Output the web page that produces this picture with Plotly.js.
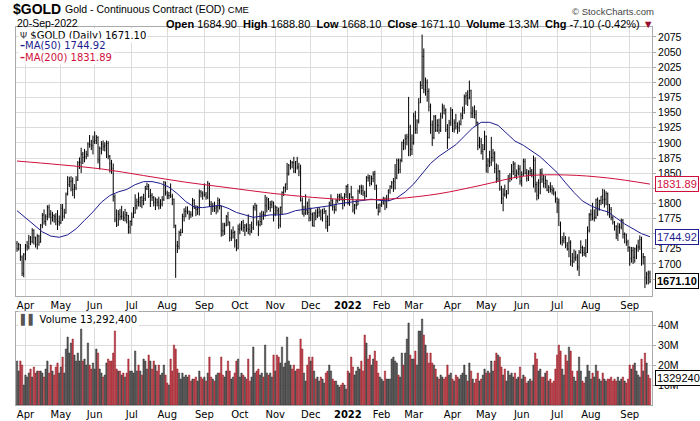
<!DOCTYPE html>
<html>
<head>
<meta charset="utf-8">
<script src="https://cdn.plot.ly/plotly-3.0.1.min.js"></script>
<style>
  html, body { margin: 0; padding: 0; background: #fff; }
  #chart { width: 700px; height: 421px; }
</style>
</head>
<body>
<div id="chart"></div>
<script>
// $GOLD daily bars, 25-Mar-2021 .. 20-Sep-2022, one row per month
const opens = [
  1734,1726,1731,1711,1684,
  1716,1730,1728,1743,1737,1756,1744,1732,1746,1736,1764,1781,1770,1778,1793,1782,1777,1780,1778,1773,1770,
  1768,1792,1779,1784,1816,1831,1836,1837,1823,1826,1839,1867,1868,1881,1876,1877,1881,1898,1897,1895,
  1903,1904,1909,1872,1891,1898,1894,1896,1899,1878,1866,1858,1811,1774,1764,1782,1778,1779,1776,1781,1780,1761,
  1770,1777,1784,1796,1803,1802,1810,1805,1808,1824,1828,1812,1813,1810,1802,1806,1802,1797,1799,1806,1835,
  1817,1813,1813,1812,1807,1763,1730,1729,1752,1752,1778,1787,1787,1787,1782,1781,1805,1792,1790,1792,1819,1817,
  1814,1815,1811,1833,1798,1795,1795,1792,1794,1805,1795,1755,1754,1764,1778,1769,1743,1751,1752,1738,1726,
  1757,1759,1769,1760,1763,1758,1757,1754,1760,1793,1797,1768,1765,1770,1782,1781,1796,1806,1793,1798,1802,
  1783,1793,1788,1764,1793,1818,1826,1832,1849,1863,1868,1867,1853,1869,1860,1852,1805,1782,1784,1788,1785,
  1776,1782,1763,1783,1779,1785,1786,1776,1783,1787,1770,1764,1799,1805,1794,1790,1805,1811,1812,1810,1805,1814,
  1828,1800,1815,1810,1789,1797,1797,1820,1827,1821,1817,1812,1843,1842,1833,1841,1848,1829,1793,1786,
  1797,1801,1807,1805,1807,1822,1828,1834,1836,1842,1871,1856,1871,1901,1900,1907,1910,1926,1889,
  1900,1944,1923,1936,1966,1995,2043,1988,2000,1985,1960,1930,1909,1943,1921,1929,1921,1944,1958,1954,1922,1909,1933,
  1954,1923,1933,1927,1925,1931,1945,1954,1976,1978,1974,1986,1949,1953,1947,1934,1896,1903,1886,1889,
  1911,1863,1870,1868,1876,1883,1858,1841,1853,1824,1808,1815,1814,1816,1841,1842,1853,1865,1846,1850,1857,
  1837,1848,1869,1850,1841,1852,1853,1848,1871,1831,1813,1834,1850,1840,1833,1838,1822,1826,1823,1821,1817,
  1807,1801,1763,1736,1739,1742,1731,1725,1735,1705,1703,1710,1711,1695,1719,1727,1719,1717,1720,1755,
  1781,1782,1775,1777,1806,1791,1805,1812,1806,1807,1816,1798,1790,1777,1769,1762,1748,1761,1761,1772,1749,1749,1736,
  1727,1709,1722,1711,1725,1728,1728,1740,1711,1712,1677,1683,1684.9
];
const highs = [
  1738,1735,1733,1714,1718,
  1733,1738,1748,1746,1759,1757,1745,1749,1748,1766,1784,1790,1782,1797,1798,1789,1786,1782,1784,1789,1780,
  1799,1799,1791,1818,1845,1844,1845,1843,1832,1845,1870,1876,1892,1885,1890,1887,1901,1913,1905,1912,
  1919,1913,1911,1894,1903,1904,1901,1904,1903,1880,1872,1866,1815,1790,1789,1791,1796,1787,1791,1786,1781,1772,
  1785,1794,1815,1808,1818,1811,1812,1816,1829,1834,1832,1824,1817,1812,1810,1808,1811,1807,1812,1837,1836,
  1821,1819,1833,1816,1808,1765,1738,1755,1758,1783,1792,1795,1795,1788,1787,1809,1807,1797,1796,1823,1822,1820,
  1833,1819,1837,1834,1804,1801,1803,1796,1810,1808,1796,1768,1768,1781,1786,1770,1757,1762,1755,1741,1765,
  1767,1771,1773,1766,1767,1782,1766,1770,1797,1801,1798,1772,1785,1788,1787,1814,1811,1809,1804,1805,1803,
  1797,1795,1793,1795,1820,1828,1833,1867,1865,1872,1870,1877,1870,1877,1867,1864,1810,1796,1815,1803,1808,
  1793,1785,1786,1790,1792,1794,1790,1791,1793,1789,1780,1803,1815,1807,1797,1807,1816,1816,1817,1811,1817,1830,
  1832,1817,1829,1812,1799,1806,1823,1830,1831,1830,1821,1845,1848,1847,1846,1853,1854,1831,1799,1800,
  1807,1811,1810,1814,1823,1830,1837,1842,1865,1874,1874,1874,1902,1906,1914,1915,1976,1930,1914,
  1950,1953,1939,1974,2002,2079,2056,2008,2005,1990,1965,1937,1946,1946,1939,1940,1950,1965,1963,1957,1931,1938,1959,
  1956,1939,1948,1934,1937,1950,1960,1980,1984,1987,2003,1988,1960,1962,1954,1935,1910,1908,1898,1920,
  1912,1875,1887,1910,1890,1886,1866,1864,1855,1829,1825,1831,1822,1847,1850,1865,1870,1868,1856,1864,1863,
  1853,1874,1874,1857,1855,1860,1857,1879,1876,1836,1840,1857,1858,1847,1846,1839,1830,1835,1830,1826,1820,
  1810,1808,1770,1746,1752,1746,1736,1745,1739,1718,1724,1722,1716,1723,1739,1730,1728,1741,1762,1784,
  1790,1801,1790,1808,1810,1806,1812,1824,1823,1820,1818,1799,1794,1779,1771,1764,1768,1767,1775,1774,1752,1750,1740,
  1729,1728,1728,1727,1732,1740,1747,1745,1718,1713,1687,1689,1688.8
];
const lows = [
  1720,1722,1705,1680,1678,
  1706,1722,1724,1731,1734,1732,1727,1724,1730,1735,1759,1765,1763,1772,1776,1765,1770,1768,1764,1756,1763,
  1766,1771,1775,1783,1813,1827,1820,1812,1808,1822,1837,1857,1850,1865,1868,1873,1877,1892,1888,1881,
  1898,1898,1866,1856,1881,1887,1886,1875,1873,1851,1849,1803,1769,1761,1763,1772,1773,1771,1770,1767,1750,1750,
  1763,1776,1783,1790,1795,1794,1792,1797,1804,1822,1809,1794,1804,1795,1789,1795,1790,1791,1795,1804,1813,
  1807,1807,1809,1797,1759,1677,1718,1724,1746,1751,1770,1777,1782,1773,1776,1778,1791,1779,1781,1780,1810,1806,
  1811,1806,1807,1794,1781,1786,1786,1782,1785,1790,1745,1746,1748,1762,1763,1737,1738,1742,1727,1721,1724,
  1749,1755,1753,1746,1753,1749,1747,1751,1756,1788,1763,1746,1762,1764,1773,1778,1785,1789,1786,1792,1770,
  1779,1782,1758,1760,1782,1812,1818,1822,1846,1856,1858,1850,1850,1856,1845,1803,1782,1778,1781,1781,1770,
  1771,1762,1761,1772,1776,1778,1772,1770,1783,1758,1753,1763,1795,1788,1783,1787,1801,1804,1805,1790,1795,1809,
  1798,1796,1808,1785,1782,1790,1797,1816,1814,1812,1805,1810,1836,1828,1830,1835,1822,1791,1780,1785,
  1794,1798,1789,1792,1804,1816,1824,1819,1823,1840,1849,1850,1868,1888,1889,1896,1878,1878,1880,
  1897,1915,1915,1932,1966,1989,1982,1978,1968,1952,1915,1895,1906,1918,1918,1915,1918,1940,1947,1918,1890,1907,1928,
  1918,1917,1922,1915,1918,1929,1939,1948,1963,1961,1972,1941,1941,1940,1928,1888,1891,1881,1872,1888,
  1851,1850,1860,1862,1869,1850,1834,1836,1821,1799,1787,1811,1808,1815,1835,1838,1847,1842,1840,1846,1831,
  1828,1845,1848,1836,1837,1847,1843,1826,1818,1805,1807,1815,1834,1826,1825,1820,1817,1818,1815,1813,1801,
  1784,1763,1732,1730,1734,1726,1722,1711,1697,1695,1702,1705,1689,1680,1717,1712,1713,1711,1718,1752,
  1771,1772,1770,1774,1779,1788,1797,1799,1793,1797,1780,1776,1772,1765,1755,1741,1738,1750,1757,1742,1734,1730,1720,
  1697,1702,1700,1702,1708,1720,1723,1697,1699,1660,1666,1666,1668.1
];
const closes = [
  1725,1732,1712,1685,1715,
  1728,1728,1743,1737,1756,1744,1732,1747,1736,1764,1780,1770,1778,1793,1782,1777,1780,1778,1773,1768,1768,
  1792,1779,1784,1815,1831,1836,1837,1823,1826,1838,1867,1868,1881,1876,1877,1881,1898,1897,1895,1902,
  1904,1909,1872,1891,1898,1894,1896,1899,1878,1866,1858,1811,1774,1764,1782,1778,1779,1776,1781,1780,1761,1770,
  1777,1784,1796,1803,1802,1810,1805,1808,1824,1828,1812,1813,1810,1802,1806,1802,1797,1799,1806,1835,1817,
  1813,1813,1812,1807,1763,1730,1729,1752,1752,1778,1787,1787,1787,1782,1781,1805,1792,1790,1792,1819,1817,1814,
  1815,1811,1833,1798,1795,1795,1792,1794,1805,1795,1755,1754,1764,1778,1769,1743,1751,1752,1738,1726,1757,
  1759,1769,1760,1763,1758,1757,1754,1760,1793,1797,1768,1765,1770,1782,1781,1796,1806,1793,1798,1802,1783,
  1793,1788,1764,1793,1818,1826,1832,1849,1863,1868,1867,1853,1869,1860,1852,1805,1782,1784,1788,1785,1776,
  1782,1763,1783,1779,1785,1786,1776,1783,1787,1770,1764,1799,1805,1794,1790,1805,1811,1812,1810,1805,1814,1828,
  1800,1815,1810,1789,1797,1797,1820,1827,1821,1817,1812,1843,1842,1833,1841,1848,1829,1793,1786,1797,
  1801,1807,1805,1807,1822,1828,1834,1836,1842,1871,1856,1871,1901,1900,1907,1910,1926,1889,1900,
  1944,1923,1936,1966,1995,2043,1988,2000,1985,1960,1930,1909,1943,1921,1929,1921,1944,1958,1954,1922,1909,1933,1954,
  1923,1933,1927,1925,1931,1945,1954,1976,1978,1974,1986,1949,1953,1947,1934,1896,1903,1886,1889,1911,
  1863,1870,1868,1876,1883,1858,1841,1853,1824,1808,1815,1814,1816,1841,1842,1853,1865,1846,1850,1857,1837,
  1848,1869,1850,1841,1852,1853,1848,1871,1831,1813,1834,1850,1840,1833,1838,1822,1826,1823,1821,1817,1807,
  1801,1763,1736,1739,1742,1731,1725,1735,1705,1703,1710,1711,1695,1719,1727,1719,1717,1719,1755,1781,
  1782,1775,1777,1806,1791,1805,1812,1806,1807,1816,1798,1790,1777,1769,1762,1748,1761,1761,1772,1749,1749,1736,1727,
  1709,1722,1711,1725,1728,1728,1740,1711,1712,1677,1683,1678.2,1671.1
];
// volume in millions
const volumes = [
  22,17,22,20,10,
  15,14,16,18,14,19,16,17,17,17,16,14,18,22,16,20,17,15,19,21,16,
  19,24,16,28,34,26,31,33,25,22,26,22,38,22,23,20,31,20,18,21,
  18,28,26,18,16,14,15,21,23,22,22,26,37,18,17,17,15,16,14,16,23,17,
  17,16,27,17,20,17,15,23,22,18,25,22,18,22,20,17,20,15,16,20,15,
  11,10,23,17,30,28,18,16,13,16,14,15,14,15,12,13,13,14,12,17,14,13,
  14,12,16,24,14,13,12,15,16,16,24,15,14,17,22,17,13,14,16,22,23,
  14,16,15,14,13,23,12,14,29,16,17,18,15,16,14,30,16,15,16,14,25,
  17,25,24,21,29,19,21,34,22,20,18,20,17,18,18,33,28,16,12,20,24,
  22,24,17,13,14,12,14,13,11,16,17,20,17,13,12,12,10,9,10,11,10,8,
  17,16,24,19,15,17,19,18,22,17,35,31,23,25,20,23,27,22,16,14,
  13,12,17,13,13,13,23,24,22,21,15,14,26,20,26,33,41,25,23,
  23,27,20,37,37,43,35,30,26,21,26,21,20,18,14,13,15,14,13,14,20,15,16,
  13,12,15,14,13,15,16,20,15,12,21,17,13,11,13,16,12,13,15,18,
  16,17,16,22,17,22,26,25,24,19,15,18,12,17,15,16,14,16,13,14,19,
  13,15,14,11,12,13,12,20,26,23,17,18,14,14,16,17,12,13,11,12,18,
  25,30,27,18,15,25,22,29,27,17,14,12,17,24,17,12,11,14,20,17,
  13,16,14,20,17,13,12,16,13,12,13,13,14,12,13,12,14,12,13,14,12,11,13,
  20,18,20,21,17,15,14,23,17,26,21,15,13.2924
];

// moving averages: MA(50) every 5th bar, MA(200) every 25th bar
const ma50 = [
  1788,1776,1765,1753,1746,1744,1748,1758,1772,1786,1802,1813,1819,1823,1831,1836,1836,1833,1827,1816,
  1803,1794,1793,1795,1797,1792,1785,1781,1777,1779,1781,1781,1783,1788,1790,1791,1794,1796,1799,1801,
  1803,1805,1807,1805,1804,1809,1819,1832,1850,1866,1878,1887,1897,1911,1925,1934,1934,1929,1916,1903,
  1896,1886,1877,1864,1851,1834,1818,1804,1796,1790,1786,1776,1766,1758,1750,1744.92
];
const ma200 = [1870,1864,1857,1846,1835,1826,1817,1810,1806,1808,1816,1830,1845,1847,1842,1831.89];

// first trading day of each month (bar index) and labels
const monthIdx = [5,26,46,68,89,111,132,153,174,196,216,235,258,278,299,320,340,363];
const monthLabels = ['Apr','May','Jun','Jul','Aug','Sep','Oct','Nov','Dec','<b>2022</b>','Feb','Mar','Apr','May','Jun','Jul','Aug','Sep'];

// price gridlines every 25; labels hidden where the value boxes sit
const priceTicks = [1675,1700,1725,1750,1775,1800,1825,1850,1875,1900,1925,1950,1975,2000,2025,2050,2075];
const priceTickText = ['','1700','1725','','1775','1800','','1850','1875','1900','1925','1950','1975','2000','2025','2050','2075'];
const volTicks = [10,20,30,40];

const bars = closes.map((_, i) => i);
const isDown = closes.map((c, i) => i > 0 && c < closes[i - 1]);
const volColors = isDown.map(d => d ? '#c9404b' : '#5c5c5c');
const volLines = isDown.map(d => d ? '#8c1c26' : '#2b2b2b');

const FONT = 'Liberation Sans, Arial, sans-serif';
const VFONT = 'DejaVu Sans, Verdana, sans-serif';

const data = [
  {
    type: 'ohlc', x: bars, open: opens, high: highs, low: lows, close: closes,
    xaxis: 'x', yaxis: 'y',
    increasing: { line: { color: '#000', width: 1 } },
    decreasing: { line: { color: '#000', width: 1 } },
    tickwidth: 0.3, hoverinfo: 'skip'
  },
  {
    type: 'scatter', mode: 'lines', x: ma50.map((_, i) => i * 5), y: ma50,
    xaxis: 'x', yaxis: 'y', line: { color: '#1c1c8e', width: 1 }, hoverinfo: 'skip'
  },
  {
    type: 'scatter', mode: 'lines', x: ma200.map((_, i) => i * 25), y: ma200,
    xaxis: 'x', yaxis: 'y', line: { color: '#d0103c', width: 1, shape: 'spline' }, hoverinfo: 'skip'
  },
  {
    type: 'bar', x: bars, y: volumes, xaxis: 'x2', yaxis: 'y2',
    marker: { color: volColors, line: { color: volLines, width: 0.5 } }, hoverinfo: 'skip'
  }
];

const xBase = {
  range: [-0.6, 376.2], tickvals: monthIdx, ticktext: monthLabels,
  showgrid: true, gridcolor: '#dcdcdc', gridwidth: 1, zeroline: false,
  showline: true, mirror: true, linecolor: '#aaa', linewidth: 1,
  ticks: '', tickfont: { family: VFONT, size: 10, color: '#000' },
  rangeslider: { visible: false }, fixedrange: true
};

const px = p => (p - 16) / 636;
const py = p => (405 - p) / 378;

const ann = (x, y, text, opt) => Object.assign({
  xref: 'paper', yref: 'paper', x: px(x), y: py(y), text, showarrow: false,
  xanchor: 'left', yanchor: 'middle', font: { family: FONT, size: 11, color: '#000' }
}, opt || {});

const valueBox = (yref, y, text, color, bold) => ({
  xref: 'paper', yref, x: 1, y, xshift: 3, xanchor: 'left', yanchor: 'middle',
  text: bold ? '<b>' + text + '</b>' : text, showarrow: false,
  bgcolor: '#fff', bordercolor: color, borderwidth: 1, borderpad: 1,
  font: { family: FONT, size: 11, color: color }
});

const layout = {
  width: 700, height: 421,
  margin: { l: 16, r: 48, t: 27, b: 16, pad: 0 },
  paper_bgcolor: '#fff', plot_bgcolor: '#fff',
  showlegend: false, bargap: 0.2,
  xaxis: Object.assign({}, xBase, { anchor: 'y' }),
  xaxis2: Object.assign({}, xBase, { anchor: 'y2', matches: 'x' }),
  yaxis: {
    domain: [0.2884, 1], range: [1647, 2091.5], side: 'right',
    tickvals: priceTicks, ticktext: priceTickText,
    showgrid: true, gridcolor: '#dcdcdc', zeroline: false,
    showline: true, mirror: true, linecolor: '#aaa', linewidth: 1,
    ticks: 'outside', ticklen: 3, tickcolor: '#aaa',
    tickfont: { family: FONT, size: 10.5, color: '#000' }, fixedrange: true
  },
  yaxis2: {
    domain: [0, 0.246], range: [0, 46.5], side: 'right',
    tickvals: volTicks, ticktext: volTicks.map(v => v + 'M'),
    showgrid: true, gridcolor: '#dcdcdc', zeroline: false,
    showline: true, mirror: true, linecolor: '#aaa', linewidth: 1,
    ticks: 'outside', ticklen: 3, tickcolor: '#aaa',
    tickfont: { family: FONT, size: 10.5, color: '#000' }, fixedrange: true
  },
  annotations: [
    ann(11, 9, '<b>$GOLD</b>', { font: { family: FONT, size: 14, color: '#000' } }),
    ann(63, 9, 'Gold - Continuous Contract (EOD) <span style="font-size:9.5px">CME</span>', { font: { family: FONT, size: 10.5, color: '#000' } }),
    ann(656, 12, '\u00a9 StockCharts.com', { xanchor: 'right', font: { family: FONT, size: 9.5, color: '#444' } }),
    ann(15, 23, '20-Sep-2022', { font: { family: FONT, size: 10.5, color: '#000' } }),
    ann(656, 24, '<b>Open</b> 1684.90  <b>High</b> 1688.80  <b>Low</b> 1668.10  <b>Close</b> 1671.10  <b>Volume</b> 13.3M  <b>Chg</b> -7.10 (-0.42%) <span style="color:#9a0a2a">\u25bc</span>',
      { xanchor: 'right', font: { family: FONT, size: 11, color: '#000' } }),
    ann(18, 35, '<span style="font-size:9px;color:#333">\u03a8</span> $GOLD (Daily) 1671.10', { bgcolor: '#fff', font: { family: VFONT, size: 10, color: '#000' } }),
    ann(18, 46, '<b>\u2013</b>MA(50) 1744.92', { bgcolor: '#fff', font: { family: VFONT, size: 10, color: '#1c1c8e' } }),
    ann(18, 57, '<b>\u2013</b>MA(200) 1831.89', { bgcolor: '#fff', font: { family: VFONT, size: 10, color: '#d0103c' } }),
    ann(18, 319, '<span style="color:#555">\u258c\u258c</span> Volume 13,292,400', { bgcolor: '#fff', font: { family: VFONT, size: 10, color: '#000' } }),
    valueBox('y', 1831.89, '1831.89', '#d0103c', false),
    valueBox('y', 1744.92, '1744.92', '#1c1c8e', false),
    valueBox('y', 1671.10, '1671.10', '#000', true),
    valueBox('y2', 13.2924, '1329240', '#000', false)
  ]
};

Plotly.newPlot('chart', data, layout, { staticPlot: true, displayModeBar: false });
</script>
</body>
</html>
